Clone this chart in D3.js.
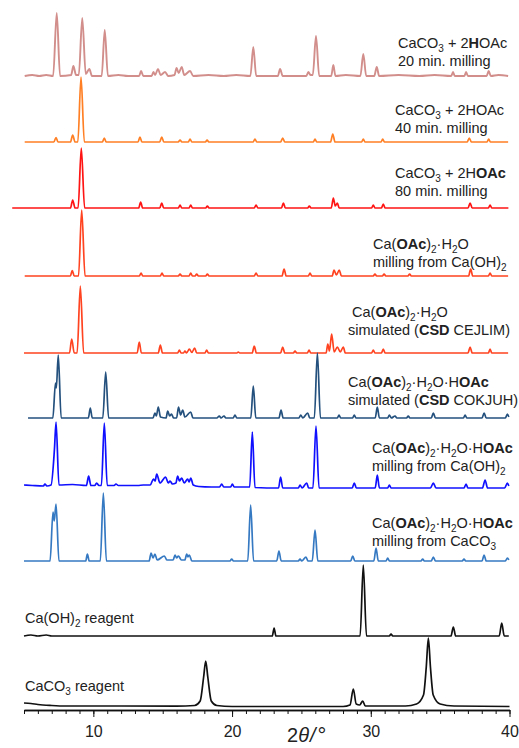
<!DOCTYPE html>
<html>
<head>
<meta charset="utf-8">
<script src="https://cdn.jsdelivr.net/npm/d3@7"></script>
<style>
  body { margin: 0; background: #fff; }
  text { font-family: 'Liberation Sans', Arial, sans-serif; }
</style>
</head>
<body>
<script>
const width = 519
const height = 748

// one entry per pattern, top to bottom
const traceColors = [
  '#d18e8b', '#ff7f24', '#ff1414', '#ff4321', '#ff4321',
  '#23507d', '#1010ff', '#3579c2', '#111111', '#111111'
]

// baseline of each pattern (stacking offset, a.u.)
const offsets = [634, 568, 502, 434, 357, 292, 222, 149, 74, 3]

// [2theta, intensity]
const p20min = [
  [5.05, 0], [5.6, 1], [6.1, 0], [6.6, 1], [7.1, 0], [7.36, 63], [7.6, 0],
  [8.4, 1], [8.56, 10], [8.75, 1], [8.95, 1], [9.2, 58], [9.45, 2], [9.71, 7], [9.9, 0],
  [10.6, 0], [10.82, 46], [11.05, 0], [11.8, 1], [12.5, 0],
  [13.3, 0], [13.44, 5], [13.6, 0],
  [14.2, 0], [14.33, 4], [14.45, 1], [14.66, 7], [14.85, 1], [15.17, 4], [15.4, 0],
  [15.85, 1], [16.0, 8], [16.15, 3], [16.37, 9], [16.55, 1], [16.97, 5], [17.2, 0],
  [18.3, 1], [19.4, 0], [20.3, 1], [21.32, 0], [21.53, 29], [21.74, 0],
  [23.3, 0], [23.46, 7], [23.65, 0],
  [25.35, 0], [25.5, 4], [25.65, 1], [25.82, 1], [26.05, 40], [26.28, 0],
  [27.15, 0], [27.3, 11], [27.45, 0], [28.2, 1],
  [29.25, 0], [29.46, 22], [29.67, 0],
  [30.25, 0], [30.43, 9], [30.6, 0], [32.0, 1], [33.5, 0], [34.6, 1],
  [35.8, 0], [35.93, 4], [36.05, 0],
  [36.75, 0], [36.87, 4], [37.0, 0],
  [38.35, 0], [38.5, 5], [38.65, 0], [39.2, 1], [39.9, 0]
]

const p40min = [
  [5.05, 0], [7.15, 0], [7.31, 4.5], [7.45, 0],
  [8.35, 0], [8.51, 7], [8.68, 0],
  [8.88, 0], [9.11, 65], [9.35, 0],
  [10.65, 0], [10.79, 4], [10.92, 0],
  [13.22, 0], [13.36, 5], [13.5, 0],
  [14.78, 0], [14.93, 5], [15.08, 0],
  [16.12, 0], [16.25, 2], [16.38, 0],
  [16.85, 0], [16.97, 3], [17.1, 0],
  [18.08, 0], [18.2, 2], [18.32, 0],
  [21.52, 0], [21.65, 3], [21.78, 0],
  [23.5, 0], [23.65, 4], [23.8, 0],
  [25.86, 0], [25.98, 3], [26.1, 0],
  [27.1, 0], [27.26, 8], [27.42, 0],
  [29.34, 0], [29.46, 3], [29.58, 0],
  [30.74, 0], [30.86, 3], [30.98, 0],
  [36.95, 0], [37.1, 4], [37.25, 0],
  [38.38, 0], [38.5, 3], [38.62, 0], [39.9, 0]
]

const p80min = [
  [4.15, 0], [8.35, 0], [8.51, 8], [8.68, 0],
  [8.9, 0], [9.13, 60], [9.37, 0],
  [13.27, 0], [13.41, 6], [13.55, 0],
  [14.79, 0], [14.93, 5], [15.07, 0],
  [16.13, 0], [16.25, 3], [16.37, 0],
  [16.9, 0], [17.02, 3], [17.14, 0],
  [18.1, 0], [18.22, 2], [18.34, 0],
  [21.6, 0], [21.73, 3], [21.86, 0],
  [23.56, 0], [23.7, 5], [23.84, 0],
  [25.45, 0], [25.57, 2], [25.69, 0],
  [27.15, 0], [27.3, 10], [27.44, 2], [27.59, 5], [27.72, 0],
  [30.06, 0], [30.18, 3], [30.3, 0],
  [30.77, 0], [30.9, 4], [31.03, 0],
  [37.01, 0], [37.16, 5], [37.31, 0],
  [38.48, 0], [38.6, 3], [38.72, 0], [39.92, 0]
]

const pMonoOH = [
  [5.05, 0], [8.34, 0], [8.48, 5.5], [8.62, 0],
  [8.93, 0], [9.16, 66], [9.4, 0],
  [13.32, 0], [13.44, 3], [13.56, 0],
  [14.83, 0], [14.95, 3], [15.07, 0],
  [16.13, 0], [16.25, 2], [16.37, 0],
  [16.9, 0], [17.02, 3], [17.14, 0],
  [17.33, 0], [17.45, 2], [17.57, 0],
  [18.1, 0], [18.22, 2], [18.34, 0],
  [21.6, 0], [21.73, 3], [21.86, 0],
  [23.6, 0], [23.75, 7], [23.9, 0],
  [25.5, 0], [25.62, 3], [25.74, 0],
  [27.22, 0], [27.35, 6], [27.52, 1], [27.73, 6], [27.88, 0],
  [30.18, 0], [30.3, 2], [30.42, 0],
  [30.84, 0], [30.96, 2], [31.08, 0],
  [32.68, 0], [32.8, 2], [32.92, 0],
  [37.05, 0], [37.2, 7], [37.35, 0],
  [38.48, 0], [38.6, 3], [38.72, 0], [39.9, 0]
]

const pMonoSim = [
  [5.0, 0], [8.28, 0], [8.44, 14], [8.62, 0],
  [8.83, 0], [9.06, 67], [9.3, 0],
  [13.16, 0], [13.31, 11], [13.46, 0],
  [14.68, 0], [14.83, 8], [14.98, 0],
  [16.08, 0], [16.2, 3], [16.32, 0],
  [16.5, 0], [16.6, 2], [16.72, 0], [16.92, 4], [17.1, 0.5], [17.3, 5], [17.45, 0],
  [18.05, 0], [18.17, 3], [18.29, 0],
  [20.35, 0], [20.45, 1], [20.55, 0],
  [21.45, 0], [21.6, 7], [21.75, 0],
  [23.5, 0], [23.65, 6], [23.8, 0],
  [24.42, 0], [24.54, 2], [24.66, 0],
  [25.43, 0], [25.55, 3], [25.67, 0],
  [26.78, 0], [26.9, 9], [27.02, 2], [27.18, 19], [27.36, 1], [27.59, 6], [27.8, 1], [28.02, 6], [28.16, 0],
  [30.06, 0], [30.18, 3], [30.3, 0],
  [30.77, 0], [30.9, 4], [31.03, 0],
  [37.01, 0], [37.16, 6], [37.31, 0],
  [38.48, 0], [38.6, 4], [38.72, 0], [39.9, 0]
]

const pSolvSim = [
  [5.29, 0], [7.08, 0], [7.27, 35], [7.33, 30], [7.47, 63], [7.68, 0],
  [9.64, 0], [9.78, 10], [9.92, 0],
  [10.68, 0], [10.89, 46], [11.1, 0],
  [14.3, 0], [14.44, 5], [14.54, 2], [14.68, 11], [14.84, 1],
  [15.24, 0], [15.36, 7], [15.5, 2], [15.64, 4], [15.78, 0],
  [16.0, 0], [16.14, 11], [16.29, 3], [16.44, 8], [16.6, 1], [17.02, 6], [17.18, 0],
  [18.9, 0], [19.08, 2], [19.2, 0], [19.42, 2], [19.55, 0],
  [20.08, 0], [20.21, 3], [20.34, 0],
  [21.35, 0], [21.53, 32], [21.71, 0],
  [23.38, 0], [23.53, 8], [23.68, 0],
  [24.82, 0], [24.95, 3], [25.1, 0], [25.45, 5], [25.6, 0],
  [25.93, 0], [26.15, 65], [26.37, 0],
  [27.59, 0], [27.71, 3], [27.83, 0],
  [28.69, 0], [28.81, 3], [28.93, 0],
  [30.32, 0], [30.47, 11], [30.62, 0],
  [31.22, 0], [31.34, 3], [31.48, 0], [31.75, 2], [31.88, 0],
  [32.58, 0], [32.7, 2], [32.82, 0],
  [34.36, 0], [34.51, 5], [34.66, 0],
  [36.68, 0], [36.8, 3], [36.92, 0],
  [38.02, 0], [38.17, 5], [38.32, 0],
  [39.7, 0], [39.85, 4], [39.95, 1]
]

const pSolvOH = [
  [5.0, 3], [5.6, 2.5], [6.4, 2], [6.51, 4], [6.65, 2], [6.95, 3],
  [7.2, 40], [7.31, 66], [7.52, 3], [8.5, 3.5], [9.5, 2.5], [9.66, 12], [9.82, 2.5],
  [10.1, 2.5], [10.24, 5], [10.4, 2.5], [10.58, 2.5], [10.79, 65], [11.0, 2.5],
  [11.5, 2.5], [11.63, 4], [11.8, 2.5], [13.2, 2.5], [13.6, 3],
  [14.1, 3], [14.33, 9], [14.45, 7], [14.57, 14], [14.8, 5], [15.21, 11], [15.4, 5], [15.53, 7], [15.7, 4],
  [15.95, 5], [16.08, 12], [16.2, 7], [16.37, 10], [16.55, 5], [16.8, 9], [16.9, 6], [17.02, 10], [17.2, 3],
  [17.6, 1.5], [18.5, 1], [19.1, 1], [19.25, 4], [19.4, 1], [19.9, 1], [20.02, 4], [20.15, 1],
  [21.27, 1], [21.46, 56], [21.65, 0.5],
  [23.35, 0], [23.5, 11], [23.65, 0],
  [24.78, 0], [24.9, 3], [25.05, 0], [25.38, 5], [25.52, 0],
  [25.83, 0], [26.05, 62], [26.27, 0],
  [28.66, 0], [28.81, 5], [28.96, 0],
  [30.32, 0], [30.47, 13], [30.62, 0],
  [31.22, 0], [31.34, 3], [31.46, 0],
  [34.3, 0], [34.51, 5], [34.7, 0],
  [36.72, 0], [36.87, 4], [37.0, 0],
  [38.05, 0], [38.24, 8], [38.42, 0],
  [39.65, 0], [39.85, 5], [39.95, 2]
]

const pSolvCO3 = [
  [5.0, 0], [6.88, 0], [7.09, 49], [7.18, 40], [7.31, 57], [7.52, 0],
  [9.45, 0], [9.57, 7], [9.7, 0],
  [10.5, 0], [10.72, 68], [10.94, 0],
  [14.02, 0], [14.16, 8], [14.3, 3], [14.44, 7], [14.6, 1], [15.12, 5], [15.3, 1],
  [15.75, 1], [15.89, 6], [16.0, 3], [16.13, 5], [16.35, 1], [16.6, 1], [16.73, 7], [16.82, 4], [16.92, 6], [17.1, 0],
  [19.85, 0], [19.97, 2], [20.1, 0],
  [21.13, 0], [21.34, 56], [21.55, 0],
  [23.22, 0], [23.38, 10], [23.54, 0],
  [24.78, 0], [24.9, 2], [25.02, 0], [25.33, 4], [25.47, 0],
  [25.78, 0], [25.98, 31], [26.18, 0],
  [28.55, 0], [28.7, 5], [28.85, 0],
  [30.22, 0], [30.38, 13], [30.54, 0],
  [31.1, 0], [31.22, 3], [31.34, 0],
  [33.62, 0], [33.74, 2], [33.86, 0],
  [34.36, 0], [34.51, 4], [34.66, 0],
  [36.6, 0], [36.72, 2], [36.84, 0],
  [38.02, 0], [38.17, 6], [38.32, 0],
  [39.7, 0], [39.85, 3], [39.95, 1]
]

const pCaOH2 = [
  [5.0, 0], [5.5, 1], [6.0, 0], [6.6, 1], [7.0, 0],
  [22.9, 0], [23.03, 8], [23.16, 0],
  [29.23, 0], [29.46, 71], [29.69, 0],
  [31.34, 0], [31.46, 2], [31.58, 0],
  [35.78, 0], [35.95, 9], [36.12, 0],
  [39.26, 0], [39.44, 13], [39.62, 0], [39.95, 0]
]

const pCaCO3 = [
  [5.0, 4], [5.5, 3.5], [6.0, 2.5], [7.0, 1.5], [8.0, 1], [12.0, 1], [16.0, 0.8],
  [17.3, 1.5], [17.7, 6], [17.95, 30], [18.1, 46], [18.25, 30], [18.5, 6], [18.9, 1.5],
  [20.0, 0.5], [28.0, 0.5], [28.5, 2], [28.74, 18], [28.95, 3], [29.2, 2], [29.42, 6], [29.6, 1],
  [32.5, 1], [33.3, 3], [33.8, 12], [34.0, 40], [34.15, 69], [34.3, 40], [34.5, 12], [35.0, 3],
  [36.0, 1], [40.0, 0.5]
]

const patterns = [p20min, p40min, p80min, pMonoOH, pMonoSim, pSolvSim, pSolvOH, pSolvCO3, pCaOH2, pCaCO3]

// *bold*, _subscript_
const labelText = [
  ['CaCO_3_ + 2*H*OAc', '20 min. milling'],
  ['CaCO_3_ + 2HOAc', '40 min. milling'],
  ['CaCO_3_ + 2H*OAc*', '80 min. milling'],
  ['Ca(*OAc*)_2_·H_2_O', 'milling from Ca(OH)_2_'],
  [' Ca(*OAc*)_2_·H_2_O', 'simulated (*CSD* CEJLIM)'],
  ['Ca(*OAc*)_2_·H_2_O·H*OAc*', 'simulated (*CSD* COKJUH)'],
  ['Ca(*OAc*)_2_·H_2_O·H*OAc*', 'milling from Ca(OH)_2_'],
  ['Ca(*OAc*)_2_·H_2_O·H*OAc*', 'milling from CaCO_3_'],
  ['Ca(OH)_2_ reagent'],
  ['CaCO_3_ reagent']
]

// label anchors (left x, first baseline)
const labelPos = [
  [398, 48], [395, 115], [395, 178], [373, 249], [348, 317],
  [348, 387], [372, 453], [372, 528], [25, 623], [25, 691]
]

const minorTicks = d3.range(5, 41)
const majorTicks = [10, 20, 30, 40]

const axisY = 710

const svg = d3
  .select('body')
  .append('svg')
  .attr('width', width)
  .attr('height', height)

const xPositionScale = d3
  .scaleLinear()
  .domain([5, 40])
  .range([24, 509.5])

const yPositionScale = d3
  .scaleLinear()
  .domain([0, 700])
  .range([axisY, 10])

patterns.forEach((pts, i) => {
  const line = d3
    .line()
    .x(d => xPositionScale(d[0]))
    .y(d => yPositionScale(d[1] + offsets[i]))
    .curve(d3.curveMonotoneX)

  svg
    .append('path')
    .datum(pts)
    .attr('d', line)
    .attr('fill', 'none')
    .attr('stroke', traceColors[i])
    .attr('stroke-width', i === 0 ? 1.9 : 1.7)
    .attr('stroke-linejoin', 'round')
})

// labels
labelText.forEach((lines, i) => {
  lines.forEach((str, j) => {
    const text = svg
      .append('text')
      .attr('x', labelPos[i][0])
      .attr('y', labelPos[i][1] + j * 17.5)
      .attr('font-size', 14.5)
      .attr('fill', '#222')
      .style('white-space', 'pre')
    let shift = 0
    str.split(/(\*[^*]+\*|_[^_]+_)/).filter(s => s).forEach(part => {
      const t = text.append('tspan')
      let dy = -shift
      if (part[0] === '*') {
        t.text(part.slice(1, -1)).attr('font-weight', 'bold')
        shift = 0
      } else if (part[0] === '_') {
        t.text(part.slice(1, -1)).attr('font-size', 10)
        dy += 4
        shift = 4
      } else {
        t.text(part)
        shift = 0
      }
      if (dy !== 0) t.attr('dy', dy)
    })
  })
})

// x axis: minor ticks every degree, labelled every 10
svg
  .append('g')
  .attr('class', 'axis minor')
  .attr('transform', 'translate(0,' + axisY + ')')
  .call(d3.axisBottom(xPositionScale).tickValues(minorTicks).tickSize(4).tickSizeOuter(0).tickFormat(''))

svg
  .append('g')
  .attr('class', 'axis major')
  .attr('transform', 'translate(0,' + axisY + ')')
  .call(d3.axisBottom(xPositionScale).tickValues(majorTicks).tickSize(7).tickPadding(9).tickSizeOuter(0).tickFormat(d3.format('d')))

svg.selectAll('.axis path').attr('stroke', '#111').attr('stroke-width', 1.5)
svg.selectAll('.axis line').attr('stroke', '#111').attr('stroke-width', 1)
svg.selectAll('.axis text')
  .attr('font-size', 16)
  .attr('fill', '#222')
  .attr('font-family', "'Liberation Sans', Arial, sans-serif")

const xTitle = svg
  .append('text')
  .attr('x', 287)
  .attr('y', 742)
  .attr('font-size', 20)
  .attr('fill', '#222')
xTitle.append('tspan').text('2')
xTitle.append('tspan').text('θ').attr('font-style', 'italic')
xTitle.append('tspan').text('/').attr('font-style', 'italic').attr('dx', 1)
xTitle.append('tspan').text('°').attr('font-size', 22).attr('dy', 1).attr('dx', 2)
</script>
</body>
</html>
